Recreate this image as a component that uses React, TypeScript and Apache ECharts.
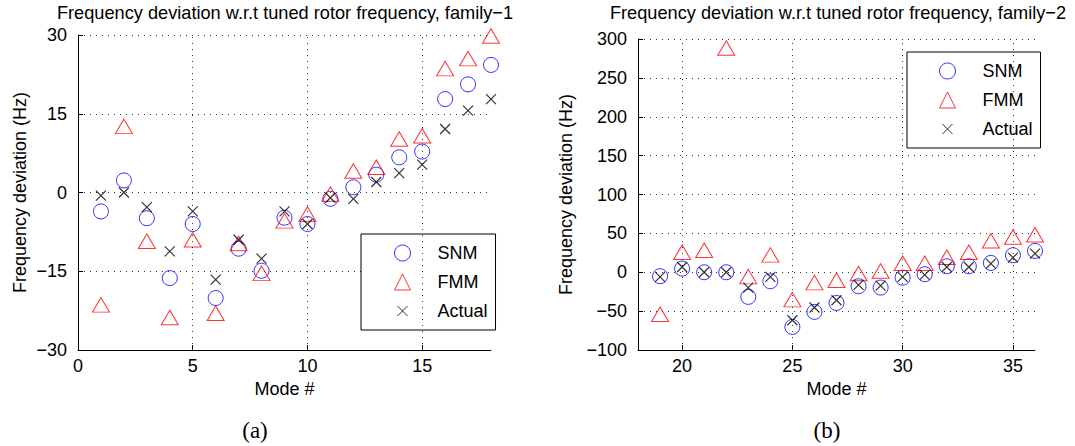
import React, { useEffect, useRef } from "react";
import * as echarts from "echarts";

// ---------- data ----------
const modes1 = [1, 2, 3, 4, 5, 6, 7, 8, 9, 10, 11, 12, 13, 14, 15, 16, 17, 18];
const snm1 = [-3.6, 2.3, -4.9, -16.3, -6.0, -20.1, -10.7, -14.9, -4.8, -6.0, -1.2, 1.0, 3.4, 6.7, 7.8, 17.8, 20.6, 24.3];
const fmm1 = [-21.4, 12.6, -9.3, -23.8, -9.0, -23.0, -9.7, -15.4, -5.4, -4.1, -0.3, 4.1, 4.8, 10.2, 10.8, 23.6, 25.5, 29.8];
const actual1 = [-0.6, 0.0, -2.8, -11.2, -3.6, -16.6, -9.0, -12.6, -3.6, -6.0, -1.0, -1.2, 2.0, 3.7, 5.3, 12.1, 15.6, 17.8];

const modes2 = [19, 20, 21, 22, 23, 24, 25, 26, 27, 28, 29, 30, 31, 32, 33, 34, 35, 36];
const snm2 = [-5.1, 4.7, 0, 0, -31.7, -11.6, -70.3, -51, -39.5, -18, -19.7, -6.9, -2.6, 7.7, 7.7, 12, 21.9, 27.4];
const fmm2 = [-54, 25.7, 28.3, 288.5, -5.6, 22.3, -35.2, -13.3, -10.3, -1.7, 1.7, 11.6, 11.6, 19.3, 25.7, 40.5, 45.4, 48.2];
const actual2 = [-6, 6.8, 0, 0, -19.7, -6, -61.7, -45.4, -36, -16.3, -17.2, -6, -3.4, 6.8, 6.8, 11.1, 18.9, 24];

const xTicks1 = [0, 5, 10, 15];
const xTicks2 = [20, 25, 30, 35];
const seriesNames = ["SNM", "FMM", "Actual"];
const titles = [
  "Frequency deviation w.r.t tuned rotor frequency, family\u22121",
  "Frequency deviation w.r.t tuned rotor frequency, family\u22122",
];
const captions = ["(a)", "(b)"];
const xName = "Mode #";
const yName = "Frequency deviation (Hz)";

// ---------- styles ----------
const FONT = "'Liberation Sans', Arial, Helvetica, sans-serif";
const CROSS = "path://M0,0M16,16M3,3L13,13M13,3L3,13";
const gridLine = { color: "#333", type: [1, 5] as any, width: 1 };

const fmtMinus = (v: number) => String(v).replace("-", "\u2212");

function makeSeries(name: string, xs: number[], ys: number[], gi: number) {
  const base: any = {
    type: "scatter",
    name,
    xAxisIndex: gi,
    yAxisIndex: gi,
    data: xs.map((x, i) => [x, ys[i]]),
    silent: true,
    emphasis: { disabled: true },
    animation: false,
  };
  if (name === "SNM") {
    base.symbol = "circle";
    base.symbolSize = 15;
    base.itemStyle = { color: "rgba(0,0,0,0)", borderColor: "#0000ff", borderWidth: 1 };
  } else if (name === "FMM") {
    base.symbol = "triangle";
    base.symbolSize = [17, 14.5];
    base.itemStyle = { color: "rgba(0,0,0,0)", borderColor: "#ff0000", borderWidth: 1 };
  } else {
    base.symbol = CROSS;
    base.symbolSize = 16;
    base.z = 3;
    base.itemStyle = { color: "rgba(0,0,0,0)", borderColor: "#000000", borderWidth: 1.2 };
  }
  return base;
}

function gridMarkLine(ticks: number[], min: number) {
  return {
    silent: true,
    symbol: ["none", "none"],
    label: { show: false },
    lineStyle: gridLine,
    emphasis: { disabled: true },
    animation: false,
    data: ticks.filter((v) => v > min).map((v) => ({ xAxis: v })),
  };
}

function xAxisOpt(gi: number, min: number, max: number, ticks: number[]) {
  return {
    type: "value",
    gridIndex: gi,
    min,
    max,
    axisLine: { show: true, onZero: false, lineStyle: { color: "#000", width: 1 } },
    axisTick: { show: true, inside: true, length: 5, customValues: ticks, lineStyle: { color: "#000" } },
    axisLabel: { customValues: ticks, color: "#000", fontSize: 18, fontFamily: FONT, margin: 7, formatter: fmtMinus },
    splitLine: { show: false },
    name: xName,
    nameLocation: "middle",
    nameGap: 29,
    nameTextStyle: { color: "#000", fontSize: 18, fontFamily: FONT },
  };
}

function yAxisOpt(gi: number, min: number, max: number, interval: number, nameGap: number) {
  return {
    type: "value",
    gridIndex: gi,
    min,
    max,
    interval,
    axisLine: { show: true, onZero: false, lineStyle: { color: "#000", width: 1 } },
    axisTick: { show: true, inside: true, length: 5, lineStyle: { color: "#000" } },
    axisLabel: { color: "#000", fontSize: 18, fontFamily: FONT, margin: 11, formatter: fmtMinus },
    splitLine: { show: true, lineStyle: gridLine },
    name: yName,
    nameLocation: "middle",
    nameGap,
    nameRotate: 90,
    nameTextStyle: { color: "#000", fontSize: 18, fontFamily: FONT },
  };
}

function legendOpt(left: number, top: number, padLeft: number) {
  return {
    data: seriesNames,
    orient: "vertical",
    left,
    top,
    padding: [10, 8, 10, padLeft],
    itemWidth: 16,
    itemHeight: 16,
    itemGap: 11,
    borderColor: "#000",
    borderWidth: 1,
    backgroundColor: "#fff",
    selectedMode: false,
    itemStyle: { borderWidth: 1 },
    textStyle: { color: "#000", fontSize: 18, fontFamily: FONT, padding: [0, 0, 0, 22] },
  };
}

export default function App() {
  const ref = useRef<HTMLDivElement>(null);
  useEffect(() => {
    document.body.style.margin = "0";
    const chart = echarts.init(ref.current!, null, { renderer: "svg" });
    const s1 = [makeSeries("SNM", modes1, snm1, 0), makeSeries("FMM", modes1, fmm1, 0), makeSeries("Actual", modes1, actual1, 0)];
    const s2 = [makeSeries("SNM", modes2, snm2, 1), makeSeries("FMM", modes2, fmm2, 1), makeSeries("Actual", modes2, actual2, 1)];
    s1[0].markLine = gridMarkLine(xTicks1, 0);
    s2[0].markLine = gridMarkLine(xTicks2, 18);
    chart.setOption({
      animation: false,
      backgroundColor: "#fff",
      grid: [
        { left: 78, top: 35, width: 413, height: 315 },
        { left: 638, top: 39, width: 397, height: 311 },
      ],
      xAxis: [xAxisOpt(0, 0, 18, xTicks1), xAxisOpt(1, 18, 36, xTicks2)],
      yAxis: [yAxisOpt(0, -30, 30, 15, 49), yAxisOpt(1, -100, 300, 50, 63)],
      legend: [legendOpt(361, 234, 33), legendOpt(907, 52, 32)],
      series: [...s1, ...s2],
      graphic: [
        { type: "text", x: 285, y: 13, silent: true, style: { text: titles[0], font: `18.2px ${FONT}`, fill: "#000", align: "center", verticalAlign: "middle", textAlign: "center", textVerticalAlign: "middle" } },
        { type: "text", x: 838, y: 13, silent: true, style: { text: titles[1], font: `18.2px ${FONT}`, fill: "#000", align: "center", verticalAlign: "middle", textAlign: "center", textVerticalAlign: "middle" } },
        { type: "text", x: 255, y: 430, silent: true, style: { text: captions[0], font: "23px 'Liberation Serif', 'DejaVu Serif', serif", fill: "#000", align: "center", verticalAlign: "middle", textAlign: "center", textVerticalAlign: "middle" } },
        { type: "text", x: 827, y: 430, silent: true, style: { text: captions[1], font: "23px 'Liberation Serif', 'DejaVu Serif', serif", fill: "#000", align: "center", verticalAlign: "middle", textAlign: "center", textVerticalAlign: "middle" } },
      ],
    });
    return () => chart.dispose();
  }, []);
  return <div ref={ref} style={{ width: 1075, height: 446 }} />;
}
